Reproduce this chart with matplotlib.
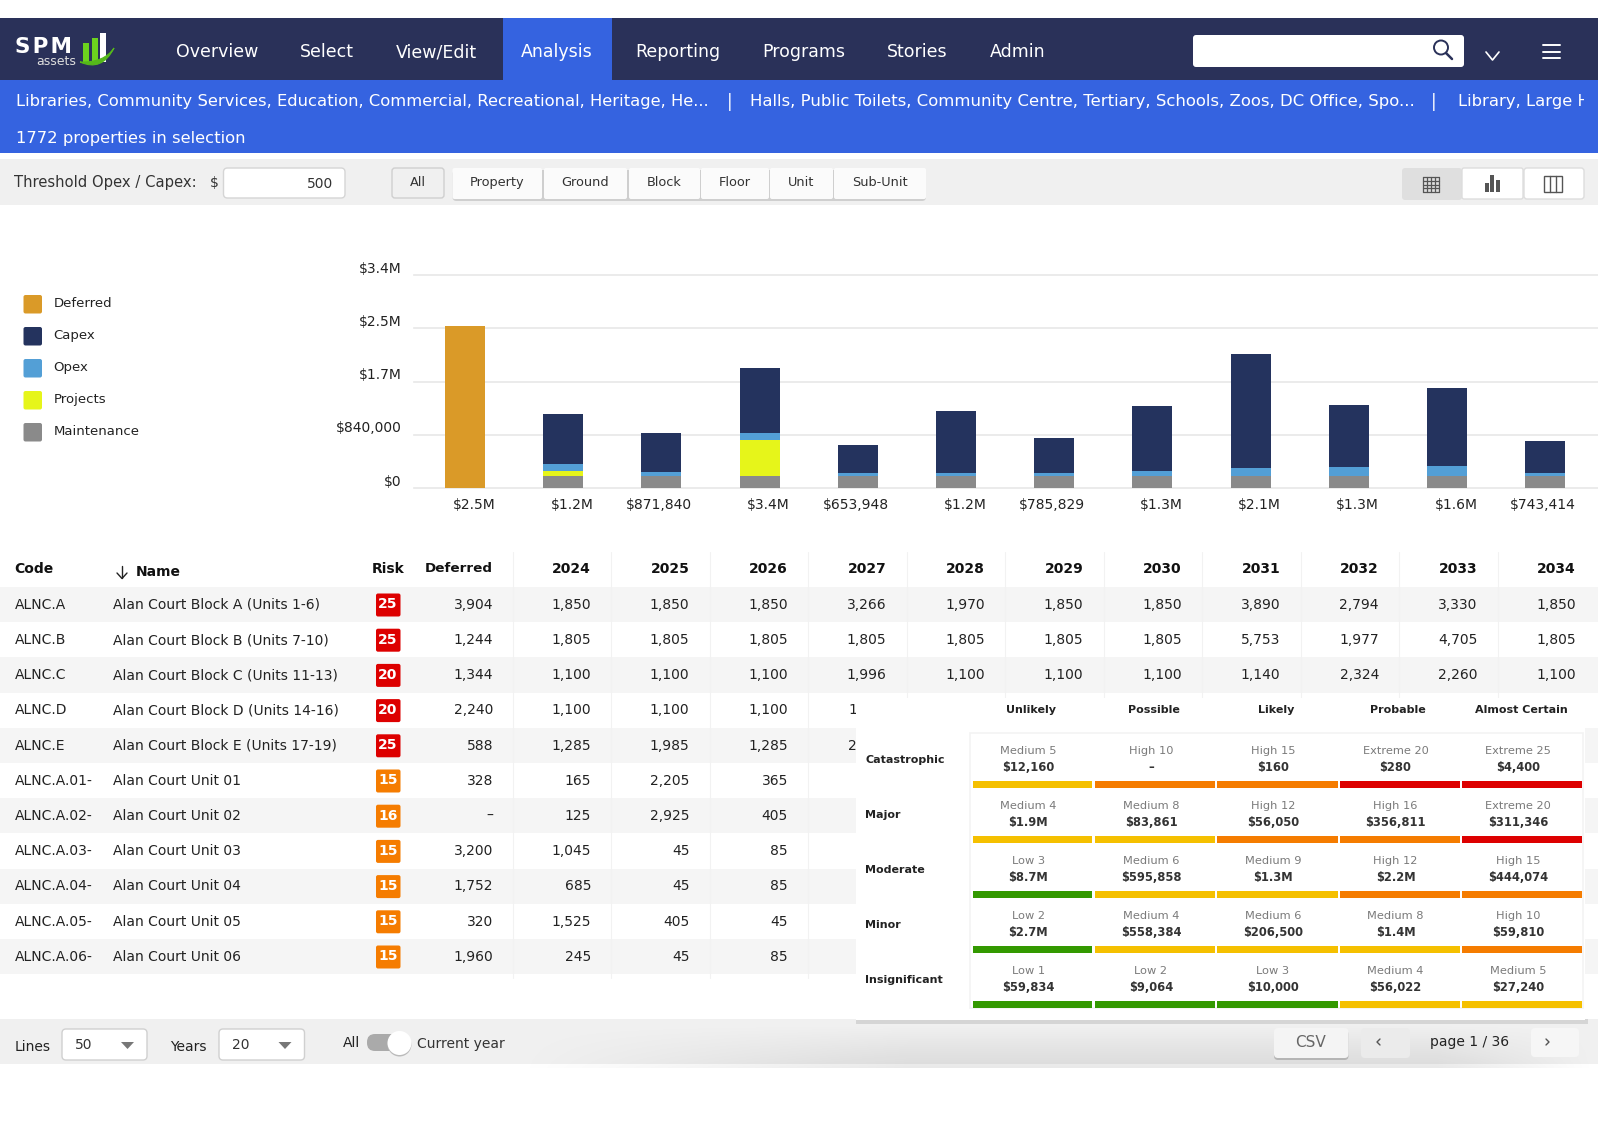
import numpy as np
import matplotlib
matplotlib.use("Agg")
import matplotlib.pyplot as plt
from matplotlib.patches import Rectangle, FancyBboxPatch, Circle, PathPatch, Polygon
from matplotlib.path import Path

plt.rcParams["font.family"] = "DejaVu Sans"

# chart data
categories = ["Deferred", "2024", "2025", "2026", "2027", "2028", "2029", "2030", "2031", "2032", "2033", "2034"]
deferred = [2555000, 0, 0, 0, 0, 0, 0, 0, 0, 0, 0, 0]
maintenance = [0, 197000, 197000, 197000, 197000, 197000, 197000, 197000, 197000, 197000, 197000, 197000]
projects = [0, 74000, 0, 568000, 0, 0, 0, 0, 0, 0, 0, 0]
opex = [0, 105000, 63000, 95000, 42000, 42000, 42000, 64000, 117000, 138000, 149000, 42000]
capex = [0, 790000, 615000, 1040000, 436000, 980000, 553000, 1027000, 1800000, 980000, 1225000, 510000]
total_labels = ["$2.5M", "$1.2M", "$871,840", "$3.4M", "$653,948", "$1.2M", "$785,829", "$1.3M", "$2.1M", "$1.3M", "$1.6M", "$743,414"]
y_ticks = [0, 840000, 1680000, 2520000, 3360000]
y_labels = ["$0", "$840,000", "$1.7M", "$2.5M", "$3.4M"]
legend_names = ["Deferred", "Capex", "Opex", "Projects", "Maintenance"]

# table data
codes = ["ALNC.A", "ALNC.B", "ALNC.C", "ALNC.D", "ALNC.E", "ALNC.A.01-", "ALNC.A.02-", "ALNC.A.03-", "ALNC.A.04-", "ALNC.A.05-", "ALNC.A.06-"]
names = ["Alan Court Block A (Units 1-6)", "Alan Court Block B (Units 7-10)", "Alan Court Block C (Units 11-13)",
         "Alan Court Block D (Units 14-16)", "Alan Court Block E (Units 17-19)", "Alan Court Unit 01", "Alan Court Unit 02",
         "Alan Court Unit 03", "Alan Court Unit 04", "Alan Court Unit 05", "Alan Court Unit 06"]
risks = [25, 25, 20, 20, 25, 15, 16, 15, 15, 15, 15]
deferred_col = ["3,904", "1,244", "1,344", "2,240", "588", "328", "–", "3,200", "1,752", "320", "1,960"]
years = ["2024", "2025", "2026", "2027", "2028", "2029", "2030", "2031", "2032", "2033", "2034"]
row_a = ["1,850", "1,850", "1,850", "3,266", "1,970", "1,850", "1,850", "3,890", "2,794", "3,330", "1,850"]
row_b = ["1,805", "1,805", "1,805", "1,805", "1,805", "1,805", "1,805", "5,753", "1,977", "4,705", "1,805"]
row_c = ["1,100", "1,100", "1,100", "1,996", "1,100", "1,100", "1,100", "1,140", "2,324", "2,260", "1,100"]
row_d = ["1,100", "1,100", "1,100"]
row_e = ["1,285", "1,985", "1,285"]
row_01 = ["165", "2,205", "365"]
row_02 = ["125", "2,925", "405"]
row_03 = ["1,045", "45", "85"]
row_04 = ["685", "45", "85"]
row_05 = ["1,525", "405", "45"]
row_06 = ["245", "45", "85"]
year_rows = [row_a, row_b, row_c, row_d, row_e, row_01, row_02, row_03, row_04, row_05, row_06]

# risk matrix data
likelihood = ["Unlikely", "Possible", "Likely", "Probable", "Almost Certain"]
consequence = ["Catastrophic", "Major", "Moderate", "Minor", "Insignificant"]
risk_text = [["Medium 5", "High 10", "High 15", "Extreme 20", "Extreme 25"],
             ["Medium 4", "Medium 8", "High 12", "High 16", "Extreme 20"],
             ["Low 3", "Medium 6", "Medium 9", "High 12", "High 15"],
             ["Low 2", "Medium 4", "Medium 6", "Medium 8", "High 10"],
             ["Low 1", "Low 2", "Low 3", "Medium 4", "Medium 5"]]
risk_value = [["$12,160", "–", "$160", "$280", "$4,400"],
              ["$1.9M", "$83,861", "$56,050", "$356,811", "$311,346"],
              ["$8.7M", "$595,858", "$1.3M", "$2.2M", "$444,074"],
              ["$2.7M", "$558,384", "$206,500", "$1.4M", "$59,810"],
              ["$59,834", "$9,064", "$10,000", "$56,022", "$27,240"]]

c_deferred = "#DA9A28"
c_capex = "#24335E"
c_opex = "#539FD6"
c_projects = "#E6F51A"
c_maint = "#8A8A8A"
level_colors = {"Low": "#339900", "Medium": "#F5C000", "High": "#F57C00", "Extreme": "#DD0000"}

W, H = 1598, 1122
fig = plt.figure(figsize=(W / 100, H / 100), dpi=100)
bg = fig.add_axes([0, 0, 1, 1])
bg.set_xlim(0, W)
bg.set_ylim(H, 0)
bg.axis("off")


def rect(x0, y0, x1, y1, color, z=1, **kw):
    p = Rectangle((x0, y0), x1 - x0, y1 - y0, facecolor=color, edgecolor="none", zorder=z, **kw)
    bg.add_patch(p)
    return p


def rbox(x0, y0, x1, y1, color, edge="none", r=3, z=2, lw=1):
    p = FancyBboxPatch((x0, y0), x1 - x0, y1 - y0, boxstyle="round,pad=0,rounding_size=%g" % r,
                       facecolor=color, edgecolor=edge, linewidth=lw, zorder=z)
    bg.add_patch(p)
    return p


def txt(x, y, s, size=10, color="#222222", ha="left", weight="normal", z=5, **kw):
    # center_baseline sits a bit low, pull it back up
    return bg.text(x, y - 1.7, s, fontsize=size, color=color, ha=ha, va="center_baseline", fontweight=weight, zorder=z, **kw)


def line(xs, ys, color, lw=1.0, z=5):
    bg.plot(xs, ys, color=color, linewidth=lw, zorder=z, solid_capstyle="round")


#### nav bar
rect(0, 18, W, 80, "#2A3159")
rect(503, 18, 612, 80, "#3563E0", z=2)
rect(0, 80, W, 153, "#3563E0")
nav_items = ["Overview", "Select", "View/Edit", "Analysis", "Reporting", "Programs", "Stories", "Admin"]
nav_x = [176, 300, 396, 521, 635, 762, 887, 990]
for s, x in zip(nav_items, nav_x):
    txt(x, 52, s, size=12.5, color="white")

# logo
txt(15, 47, "S\u200aP\u200aM", size=15.5, color="white", weight="bold")
txt(36, 61.5, "assets", size=9, color="#DDDDDD")
rect(83, 43, 89, 63, "#6CD21E", z=3)
rect(92, 38, 98, 63, "#6CD21E", z=3)
rect(100, 33, 106, 62, "white", z=3)
swoosh = Path([(80, 62), (102, 72), (114, 48), (104, 63), (80, 62)],
              [Path.MOVETO, Path.CURVE3, Path.CURVE3, Path.CURVE3, Path.CURVE3])
bg.add_patch(PathPatch(swoosh, facecolor="#55B81A", edgecolor="#55B81A", linewidth=0.8, zorder=4))

# search box and icons
rbox(1193, 35, 1464, 67, "white", r=3)
bg.add_patch(Circle((1441, 47.5), 7, facecolor="none", edgecolor="#2A3159", linewidth=1.4, zorder=5))
line([1446, 1452], [53, 59], "#2A3159", lw=1.8)
line([1486, 1492.5, 1499], [52, 60, 52], "white", lw=1.2)
for yy in (45, 51.5, 58):
    line([1543, 1560], [yy, yy], "white", lw=1.4)

#### selection strip
strip_clip = Rectangle((0, 80), 1584, 73, transform=bg.transData)
txt(16, 102, "Libraries, Community Services, Education, Commercial, Recreational, Heritage, He...", size=11.8, color="white")
txt(727, 102, "|", size=12, color="white")
txt(750, 102, "Halls, Public Toilets, Community Centre, Tertiary, Schools, Zoos, DC Office, Spo...", size=11.85, color="white")
txt(1431, 102, "|", size=12, color="white")
cut = txt(1458, 102, "Library, Large He", size=11.8, color="white", clip_on=True)
cut.set_clip_path(strip_clip)
txt(16, 139, "1772 properties in selection", size=11.8, color="white")

#### toolbar
rect(0, 159, W, 205, "#F0F0F0")
txt(14, 183, "Threshold Opex / Capex:", size=10.6, color="#333333")
txt(210, 183, "$", size=10, color="#333333")
rbox(223.5, 168, 345, 198, "white", edge="#D5D5D5", r=4)
txt(333, 184, "500", size=10, color="#333333", ha="right")

rbox(392, 168, 444, 198, "#F0F0F0", edge="#CFCFCF", r=3)
txt(418, 183, "All", size=9.3, color="#333333", ha="center")
btn_names = ["Property", "Ground", "Block", "Floor", "Unit", "Sub-Unit"]
btn_left = [452.5, 544, 629, 701, 770, 834]
btn_right = [542, 627, 700, 769, 833, 926]
rbox(452.5, 170, 926, 201, "#CFCFCF", r=4, z=1.5)
for s, a, b in zip(btn_names, btn_left, btn_right):
    rbox(a, 168, b, 199, "#FBFBFB", r=2)
    txt((a + b) / 2, 183, s, size=9.3, color="#333333", ha="center")

rbox(1402, 168, 1462, 200, "#DFDFDF", r=3)
rbox(1462, 168, 1523, 199, "white", edge="#DDDDDD", r=2)
rbox(1524, 168, 1584, 199, "white", edge="#DDDDDD", r=3)
# grid icon
for v in np.linspace(1423, 1439, 5):
    line([v, v], [177, 192], "#555555", lw=0.9)
for v in np.linspace(177, 192, 5):
    line([1423, 1439], [v, v], "#555555", lw=0.9)
# bar icon
rect(1484.5, 183, 1488.5, 192, "#555555", z=5)
rect(1490, 175, 1494, 192, "#555555", z=5)
rect(1495.5, 180, 1499.5, 192, "#555555", z=5)
# column icon
bg.add_patch(Rectangle((1544, 176), 18, 16, facecolor="none", edgecolor="#555555", linewidth=1, zorder=5))
line([1550, 1550], [176, 192], "#555555", lw=1)
line([1556, 1556], [176, 192], "#555555", lw=1)

#### legend
leg_colors = [c_deferred, c_capex, c_opex, c_projects, c_maint]
for i, (s, c) in enumerate(zip(legend_names, leg_colors)):
    y0 = 295 + i * 32
    rbox(23.5, y0, 42, y0 + 18.5, c, r=2)
    txt(53.5, y0 + 8.5, s, size=9.5, color="#222222")

#### stacked bar chart
ax = fig.add_axes([414 / W, 1 - 488 / H, (W - 414) / W, 213 / H])
ax.patch.set_alpha(0)
step = 98.2
ax.set_xlim((414 - 465) / step, (W - 465) / step)
ax.set_ylim(0, 3360000)
x = np.arange(len(categories))
bw = 40 / step
m = np.array(maintenance)
p = np.array(projects)
o = np.array(opex)
ax.bar(x, deferred, width=bw, color=c_deferred, zorder=3)
ax.bar(x, maintenance, width=bw, color=c_maint, zorder=3)
ax.bar(x, projects, width=bw, bottom=m, color=c_projects, zorder=3)
ax.bar(x, opex, width=bw, bottom=m + p, color=c_opex, zorder=3)
ax.bar(x, capex, width=bw, bottom=m + p + o, color=c_capex, zorder=3)
ax.set_yticks(y_ticks)
ax.set_yticklabels([])
ax.set_xticks([])
ax.tick_params(axis="y", length=0)
ax.grid(axis="y", color="#E8E8E8", linewidth=1.2, zorder=0)
for gl in ax.get_ygridlines():
    gl.set_clip_on(False)
for s in ax.spines.values():
    s.set_visible(False)
# labels sit above their gridline, so they are placed by offset from the tick
for v, s in zip(y_ticks, y_labels):
    ax.annotate(s, xy=(0, v), xycoords=ax.get_yaxis_transform(), xytext=(-12.5 * 0.72, 6.3 * 0.72),
                textcoords="offset points", ha="right", va="center", fontsize=10, color="#222222",
                annotation_clip=False)
for i, s in enumerate(total_labels):
    dx = 9 if s.endswith("M") else -2
    ax.annotate(s, xy=(i, 0), xytext=(dx * 0.72, -17 * 0.72), textcoords="offset points",
                ha="center", va="center", fontsize=10, color="#222222", annotation_clip=False)

#### table
row_top = 587
row_h = 35.2
for i in range(len(codes)):
    y0 = row_top + i * row_h
    if i % 2 == 0:
        rect(0, y0, W, y0 + row_h, "#F5F5F5")
col_right = [591 + j * 98.5 for j in range(len(years))]
for j in range(len(years)):
    v = 513 + j * 98.45
    line([v, v], [552, 978], "#F2F2F2", lw=0.8, z=1.5)

txt(14.5, 569, "Code", size=10, weight="bold", color="#111111")
line([122, 122], [566, 578], "#222222", lw=1)
line([117, 122, 127], [573, 578.5, 573], "#222222", lw=1)
txt(136, 572, "Name", size=10, weight="bold", color="#111111")
txt(388, 569, "Risk", size=10, weight="bold", color="#111111", ha="center")
txt(493, 569, "Deferred", size=9.7, weight="bold", color="#111111", ha="right")
for s, xr in zip(years, col_right):
    txt(xr, 569, s, size=10, weight="bold", color="#111111", ha="right")

for i in range(len(codes)):
    yc = row_top + i * row_h + 18
    txt(14.5, yc, codes[i], size=10)
    txt(113, yc, names[i], size=10)
    badge = "#DD0000" if risks[i] >= 20 else "#F57C00"
    rbox(376, yc - 11.5, 400.5, yc + 11.5, badge, r=2)
    txt(388, yc - 0.5, str(risks[i]), size=10, color="white", ha="center", weight="bold")
    txt(493, yc, deferred_col[i], size=10, ha="right")
    for s, xr in zip(year_rows[i], col_right):
        txt(xr, yc, s, size=10, ha="right")
# digits that stick out from behind the risk panel
txt(848, row_top + 3 * row_h + 18, "1", size=10)
txt(848, row_top + 4 * row_h + 18, "2", size=10)

#### bottom bar
rect(0, 1019, W, 1064, "#F0F0F0")
xx = np.linspace(0, 1, 400)
yy = np.linspace(0, 1, 40)
fade = np.clip(np.minimum((xx - 0.32) / 0.25, (1 - xx) / 0.1), 0, 1)
shade = np.zeros((40, 400, 4))
shade[..., 3] = 0.09 * np.outer(yy, fade)
bg.imshow(shade, extent=(0, W, 1068, 1024), aspect="auto", zorder=1.5)
bg.set_xlim(0, W)
bg.set_ylim(H, 0)

txt(15, 1047, "Lines", size=10)
rbox(62, 1029, 147, 1060, "white", edge="#D0D0D0", r=4)
txt(75, 1045, "50", size=10, color="#333333")
bg.add_patch(Polygon([(121, 1042), (134, 1042), (127.5, 1049)], facecolor="#777777", edgecolor="none", zorder=5))
txt(170, 1047, "Years", size=10)
rbox(219, 1029, 304.5, 1060, "white", edge="#D0D0D0", r=4)
txt(232, 1045, "20", size=10, color="#333333")
bg.add_patch(Polygon([(278.5, 1042), (291.5, 1042), (285, 1049)], facecolor="#777777", edgecolor="none", zorder=5))
txt(343, 1043, "All", size=10)
rbox(367, 1034, 400, 1051, "#AAAAAA", r=8)
bg.add_patch(Circle((399.5, 1044.5), 12, facecolor="#BBBBBB", edgecolor="none", zorder=3))
bg.add_patch(Circle((399.5, 1043), 12, facecolor="white", edgecolor="none", zorder=4))
txt(417, 1044, "Current year", size=10, color="#333333")

rbox(1274, 1030, 1348.5, 1060, "#B5B5B5", r=4, z=2)
rbox(1274, 1028, 1348.5, 1058, "#F4F4F4", r=4, z=3)
txt(1310, 1043, "CSV", size=11, color="#666666", ha="center")
rbox(1361, 1028, 1410, 1058, "#EBEBEB", r=4, z=2)
line([1380, 1377, 1380], [1039, 1042, 1045], "#555555", lw=1)
txt(1470, 1042, "page 1 / 36", size=10, ha="center")
rbox(1531, 1028, 1579, 1057, "#F6F6F6", r=4, z=2)
line([1546, 1549, 1546], [1039, 1042, 1045], "#555555", lw=1)

#### risk matrix panel on top of the table
rect(856, 1019, 1588, 1024, "#D5D5D5", z=6)
rect(856, 698, 1585, 1020, "white", z=6)
bg.add_patch(Rectangle((970, 733), 612.5, 275, facecolor="white", edgecolor="#F3F3F3", linewidth=1.2, zorder=6.1))

col_left = [973, 1095, 1217, 1339.5, 1462]
col_end = [1092, 1215, 1337.6, 1460, 1581.5]
head_x = [1031, 1153.5, 1276, 1398, 1521]
text_x = [1028.4, 1151, 1273, 1395.5, 1518]
for s, hx in zip(likelihood, head_x):
    txt(hx, 711, s, size=8, weight="bold", color="#222222", ha="center", z=7)
for r, s in enumerate(consequence):
    oy = r * 55
    txt(865.5, 761 + oy, s, size=8, weight="bold", color="#222222", z=7)
    for c in range(len(likelihood)):
        txt(text_x[c], 751.3 + oy, risk_text[r][c], size=8.2, color="#7A7A7A", ha="center", z=7)
        txt(text_x[c], 767.7 + oy, risk_value[r][c], size=8.3, color="#333333", ha="center", weight="bold", z=7)
        level = risk_text[r][c].split()[0]
        rect(col_left[c], 780.7 + oy, col_end[c], 787.7 + oy, level_colors[level], z=7)

fig.savefig("out.png", dpi=100)
